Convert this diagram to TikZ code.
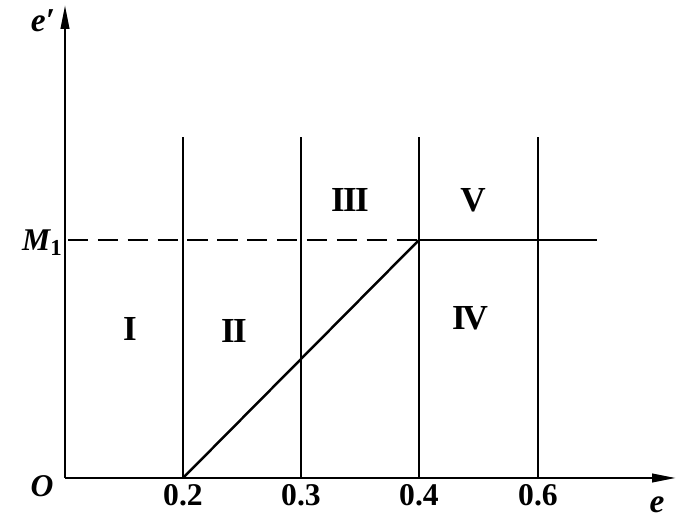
\documentclass[tikz,border=0pt]{standalone}
\usepackage{fontspec}
\setmainfont{Liberation Serif}
\usepackage{tikz}
\usetikzlibrary{arrows.meta, positioning}

\tikzset{
  axisline/.style={line width=1.4pt, -{Triangle[length=0.48cm, width=0.17cm]}},
  bound/.style={line width=1.4pt},
  lbl/.style={font=\fontsize{18}{20}\selectfont\bfseries, inner sep=1pt},
  region/.style={font=\fontsize{20}{22}\selectfont\bfseries, inner sep=1pt}
}

\begin{document}
\begin{tikzpicture}[x=0.02cm, y=0.02cm]
\useasboundingbox (0,0) rectangle (700,527);

% --- Axes ---
\coordinate (O) at (65,49);
\coordinate (ytop) at (65,522);
\coordinate (xend) at (676,49);
\draw[axisline] (O) -- (ytop);
\draw[axisline] (O) -- (xend);
\node[lbl, font=\fontsize{18}{20}\selectfont\bfseries\itshape] (olab) at (42,41) {O};
\node[lbl, font=\fontsize{19}{21}\selectfont\bfseries\itshape] (xlab) at (657,22) {e};
\node[lbl, font=\fontsize{19}{21}\selectfont\bfseries\itshape] (ylab) at (43,506) {e′};

% --- Vertical boundaries e = 0.2, 0.3, 0.4, 0.6 ---
\foreach \xx/\val [count=\i] in {183/0.2, 301/0.3, 419/0.4, 538/0.6} {
  \coordinate (b\i) at (\xx,49);
  \coordinate (t\i) at (\xx,390);
  \draw[bound] (b\i) -- (t\i);
  \node[lbl] (tick\i) at (\xx,32) {\val};
}

% --- Level M1 ---
\coordinate (m0) at (68,287);
\coordinate (m3) at (419,287);
\coordinate (mend) at (597,287);
\draw[bound, dash pattern=on 11.5pt off 5.5pt] (m0) -- (m3);
\draw[bound] (m3) -- (mend);
\node[lbl, font=\fontsize{18}{20}\selectfont\bfseries\itshape] (mlab) at (42,284)
  {M\raisebox{-0.35ex}{\upshape\fontsize{13}{15}\selectfont 1}};

% Diagonal from (0.2, 0) to (0.4, M1)
\draw[bound] (b1) -- (m3);

% --- Regions ---
\node[region] (r1) at (130,198) {I};
\node[region] (r2) at (234,196) {I\kern-1ptI};
\node[region] (r3) at (350,327) {I\kern-1ptI\kern-1ptI};
\node[region] (r4) at (470,209) {I\kern-1.8ptV};
\node[region] (r5) at (473,327) {V};

\end{tikzpicture}
\end{document}
